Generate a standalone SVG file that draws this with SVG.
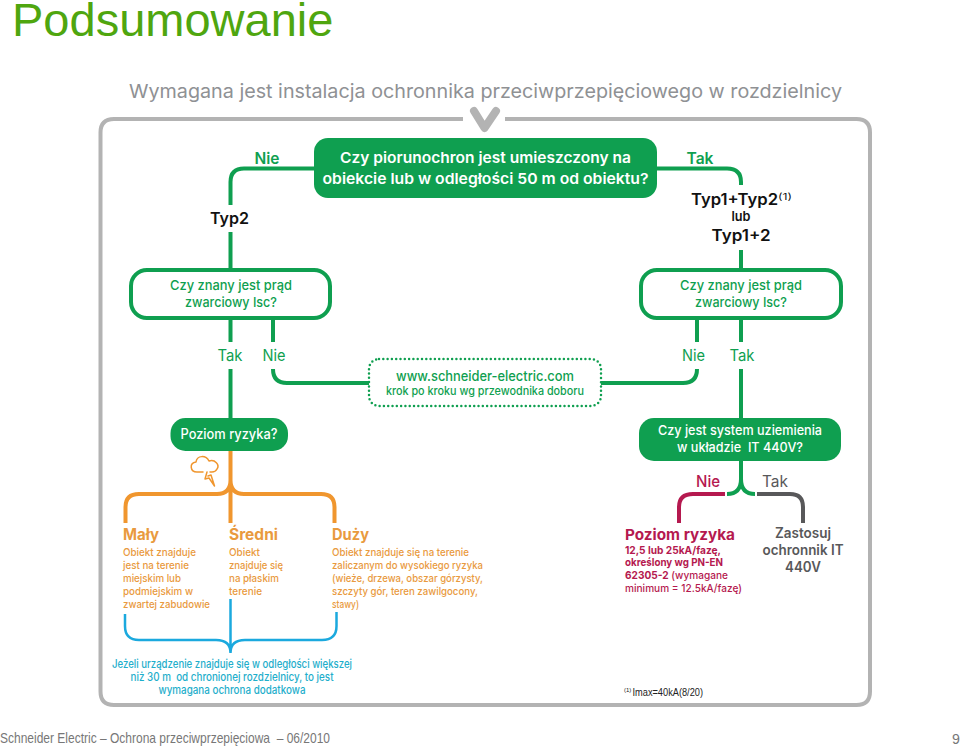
<svg xmlns="http://www.w3.org/2000/svg" width="960" height="746" viewBox="0 0 960 746">
<style>
text{font-family:"Inter","Liberation Sans",sans-serif;white-space:pre}
.c{text-anchor:middle}
.b{font-weight:700}
.sb{font-weight:600}
.m{font-weight:500}
.n{font-weight:400}
.l{fill:none;stroke-linecap:butt;stroke-linejoin:round}
.g{stroke:#0f9f50;stroke-width:4}
.o{stroke:#f0962e;stroke-width:4}
.gt{fill:#0f9f50}
.wt{fill:#fff}
.ot{fill:#e99a3e}
.ct{fill:#1eaecb}
.rt{fill:#b5194f}
.dt{fill:#58585a}
.bk{fill:#111}
.body{font-size:11px;font-weight:500}
.gbox{fill:#0f9f50}
.obox{fill:#fff;stroke:#0f9f50;stroke-width:4}
.ft{font-family:"Liberation Sans",Arial,sans-serif;fill:#777}
</style>
<text x="12" y="36" font-size="47" style="font-family:'Liberation Sans',Arial,sans-serif" fill="#4fa60f">Podsumowanie</text>
<text x="485.500" y="98" class="c n" font-size="19" fill="#8f9194" textLength="713" lengthAdjust="spacingAndGlyphs">Wymagana jest instalacja ochronnika przeciwprzepięciowego w rozdzielnicy</text>

<g id="frame">
<path class="l" stroke="#b3b3b3" stroke-width="4" d="M463 119H114Q100.500 119 100.500 132.500V691.500Q100.500 705 114 705H856.500Q870 705 870 691.500V132.500Q870 119 856.500 119H505"/>
<polyline fill="none" stroke="#b3b3b3" stroke-width="8" stroke-linecap="round" stroke-linejoin="round" points="474,111 484.500,128 496,111"/>
</g>

<g id="connectors">
<path class="l g" d="M314 168.500H244Q230.500 168.500 230.500 182V205M230.500 232V270"/>
<path class="l g" d="M657 168.500H727Q741 168.500 741 182V185M741 250V270"/>
<path class="l g" d="M230.500 318V342M230.500 369V418M273 318V342M273 369Q273 383 287 383H369"/>
<path class="l g" d="M697 318V342M697 369Q697 383 683 383H601M741 318V342M741 369V418"/>
<path class="l o" d="M230.500 451V523M230.500 480Q230.500 494 217 494H139Q125.500 494 125.500 507V523M230.500 480Q230.500 494 244 494H321Q334.500 494 334.500 507V523"/>
<path class="l g" d="M741 461V479Q741 494 727 494M741 479Q741 494 755 494"/>
<path class="l" stroke="#b5194f" stroke-width="4" d="M725 494H693Q679 494 679 507V523"/>
<path class="l" stroke="#58585a" stroke-width="4" d="M757 494H790Q803 494 803 507V523"/>
<path class="l" stroke="#1ba9de" stroke-width="2.500" d="M125 614V626Q125 640 139 640H216Q230.500 640 230.500 653M336.500 612V626Q336.500 640 322 640H245Q230.500 640 230.500 653M230.500 599V653"/>
</g>

<g id="q-piorunochron">
<rect class="gbox" x="314" y="138" width="343" height="60" rx="14"/>
<text x="485.500" y="163" class="c sb wt" font-size="15" textLength="291" lengthAdjust="spacingAndGlyphs">Czy piorunochron jest umieszczony na</text>
<text x="485.500" y="184" class="c sb wt" font-size="15" textLength="326" lengthAdjust="spacingAndGlyphs">obiekcie lub w odległości 50 m od obiektu?</text>
</g>
<g id="lbl-top">
<text x="267" y="164" class="c sb gt" font-size="16" textLength="25" lengthAdjust="spacingAndGlyphs">Nie</text>
<text x="700" y="164" class="c sb gt" font-size="16" textLength="27" lengthAdjust="spacingAndGlyphs">Tak</text>
</g>
<g id="typ2"><text x="229.500" y="224" class="c sb bk" font-size="15.500" textLength="39" lengthAdjust="spacingAndGlyphs">Typ2</text></g>
<g id="typ12">
<text x="691" y="205" class="sb bk" font-size="15.500" textLength="87" lengthAdjust="spacingAndGlyphs">Typ1+Typ2</text>
<text x="778" y="200" class="n bk" font-size="9.500" textLength="14" lengthAdjust="spacingAndGlyphs">(1)</text>
<text x="741" y="221" class="c sb bk" font-size="13" textLength="19" lengthAdjust="spacingAndGlyphs">lub</text>
<text x="741" y="241" class="c sb bk" font-size="15.500" textLength="59" lengthAdjust="spacingAndGlyphs">Typ1+2</text>
</g>
<g id="q-isc-l">
<rect class="obox" x="131" y="270" width="199" height="48" rx="16"/>
<text x="231" y="290" class="c m gt" font-size="13.500" textLength="122" lengthAdjust="spacingAndGlyphs">Czy znany jest prąd</text>
<text x="231" y="307" class="c m gt" font-size="13.500" textLength="92" lengthAdjust="spacingAndGlyphs">zwarciowy Isc?</text>
</g>
<g id="q-isc-r">
<rect class="obox" x="641" y="270" width="200" height="48" rx="16"/>
<text x="741" y="290" class="c m gt" font-size="13.500" textLength="122" lengthAdjust="spacingAndGlyphs">Czy znany jest prąd</text>
<text x="741" y="307" class="c m gt" font-size="13.500" textLength="92" lengthAdjust="spacingAndGlyphs">zwarciowy Isc?</text>
</g>
<g id="lbl-mid">
<text x="230" y="361" class="c n gt" font-size="16" textLength="25" lengthAdjust="spacingAndGlyphs">Tak</text>
<text x="274" y="361" class="c n gt" font-size="16" textLength="23" lengthAdjust="spacingAndGlyphs">Nie</text>
<text x="693.500" y="361" class="c n gt" font-size="16" textLength="23" lengthAdjust="spacingAndGlyphs">Nie</text>
<text x="742" y="361" class="c n gt" font-size="16" textLength="25" lengthAdjust="spacingAndGlyphs">Tak</text>
</g>
<g id="web">
<rect x="369" y="359" width="232" height="47" rx="10" fill="#fff" stroke="#0f9f50" stroke-width="2.500" stroke-dasharray="0 4.300" stroke-linecap="round"/>
<text x="485" y="380.500" class="c m gt" font-size="14" textLength="178" lengthAdjust="spacingAndGlyphs">www.schneider-electric.com</text>
<text x="485" y="395" class="c m gt" font-size="11.500" textLength="198" lengthAdjust="spacingAndGlyphs">krok po kroku wg przewodnika doboru</text>
</g>
<g id="q-poziom">
<rect class="gbox" x="170.500" y="418" width="117.500" height="33" rx="15"/>
<text x="229" y="439" class="c m wt" font-size="14" textLength="97" lengthAdjust="spacingAndGlyphs">Poziom ryzyka?</text>
</g>
<g id="cloud" fill="none" stroke="#f0962e" stroke-width="1.500" stroke-linejoin="round" stroke-linecap="round">
<path d="M203 472H197C190 472 189 463 196 462C197 455 206 455 209 461C215 459 220 465 217 469C216 471 214 472 212 472H210"/>
<path d="M207 472L205 479L209 478L214.500 486L211 475L208 476"/>
</g>
<g id="q-it">
<rect class="gbox" x="639" y="418" width="202" height="43" rx="15"/>
<text x="740" y="435" class="c m wt" font-size="13.500" textLength="164" lengthAdjust="spacingAndGlyphs">Czy jest system uziemienia</text>
<text x="740" y="452" class="c m wt" font-size="13.500" textLength="126" lengthAdjust="spacingAndGlyphs">w układzie  IT 440V?</text>
</g>
<g id="lbl-it">
<text x="708" y="487" class="c m rt" font-size="16" textLength="24" lengthAdjust="spacingAndGlyphs">Nie</text>
<text x="775" y="487" class="c n dt" font-size="16" textLength="26" lengthAdjust="spacingAndGlyphs">Tak</text>
</g>
<g id="maly">
<text x="123" y="540" class="b ot" font-size="15.500" textLength="36" lengthAdjust="spacingAndGlyphs">Mały</text>
<text x="123" y="556" class="body ot" textLength="73" lengthAdjust="spacingAndGlyphs">Obiekt znajduje</text>
<text x="123" y="569" class="body ot" textLength="66" lengthAdjust="spacingAndGlyphs">jest na terenie</text>
<text x="123" y="582" class="body ot" textLength="58" lengthAdjust="spacingAndGlyphs">miejskim lub</text>
<text x="123" y="595" class="body ot" textLength="70" lengthAdjust="spacingAndGlyphs">podmiejskim w</text>
<text x="123" y="608" class="body ot" textLength="87" lengthAdjust="spacingAndGlyphs">zwartej zabudowie</text>
</g>
<g id="sredni">
<text x="229" y="540" class="b ot" font-size="15.500" textLength="49" lengthAdjust="spacingAndGlyphs">Średni</text>
<text x="229" y="556" class="body ot" textLength="31" lengthAdjust="spacingAndGlyphs">Obiekt</text>
<text x="229" y="569" class="body ot" textLength="54" lengthAdjust="spacingAndGlyphs">znajduje się</text>
<text x="229" y="582" class="body ot" textLength="50" lengthAdjust="spacingAndGlyphs">na płaskim</text>
<text x="229" y="595" class="body ot" textLength="33" lengthAdjust="spacingAndGlyphs">terenie</text>
</g>
<g id="duzy">
<text x="332" y="540" class="b ot" font-size="15.500" textLength="37" lengthAdjust="spacingAndGlyphs">Duży</text>
<text x="332" y="556" class="body ot" textLength="137" lengthAdjust="spacingAndGlyphs">Obiekt znajduje się na terenie</text>
<text x="332" y="569" class="body ot" textLength="151" lengthAdjust="spacingAndGlyphs">zaliczanym do wysokiego ryzyka</text>
<text x="332" y="582" class="body ot" textLength="151" lengthAdjust="spacingAndGlyphs">(wieże, drzewa, obszar górzysty,</text>
<text x="332" y="595" class="body ot" textLength="146" lengthAdjust="spacingAndGlyphs">szczyty gór, teren zawilgocony,</text>
<text x="332" y="608" class="body ot" textLength="27" lengthAdjust="spacingAndGlyphs">stawy)</text>
</g>
<g id="dodatkowa">
<text x="232" y="668" class="c m ct" font-size="11.500" textLength="240" lengthAdjust="spacingAndGlyphs">Jeżeli urządzenie znajduje się w odległości większej</text>
<text x="232" y="681" class="c m ct" font-size="11.500" textLength="203" lengthAdjust="spacingAndGlyphs">niż 30 m  od chronionej rozdzielnicy, to jest</text>
<text x="232" y="694" class="c m ct" font-size="11.500" textLength="147" lengthAdjust="spacingAndGlyphs">wymagana ochrona dodatkowa</text>
</g>
<g id="poziom-ryzyka">
<text x="625" y="539.500" class="b rt" font-size="14.800" textLength="110" lengthAdjust="spacingAndGlyphs">Poziom ryzyka</text>
<text x="625" y="553.500" class="b rt" font-size="10.500" textLength="96" lengthAdjust="spacingAndGlyphs">12,5 lub 25kA/fazę,</text>
<text x="625" y="566" class="b rt" font-size="11" textLength="98" lengthAdjust="spacingAndGlyphs">określony wg PN-EN</text>
<text x="625" y="579" class="rt" font-size="11" font-weight="500" textLength="103" lengthAdjust="spacingAndGlyphs"><tspan class="b">62305-2</tspan> (wymagane</text>
<text x="625" y="592" class="rt" font-size="11" font-weight="500" textLength="117" lengthAdjust="spacingAndGlyphs">minimum = 12.5kA/fazę)</text>
</g>
<g id="zastosuj">
<text x="803" y="538" class="c sb dt" font-size="14" textLength="56" lengthAdjust="spacingAndGlyphs">Zastosuj</text>
<text x="803" y="555" class="c sb dt" font-size="14" textLength="81" lengthAdjust="spacingAndGlyphs">ochronnik IT</text>
<text x="803" y="572" class="c sb dt" font-size="14" textLength="36" lengthAdjust="spacingAndGlyphs">440V</text>
</g>
<g id="footnote" style="font-family:'Liberation Sans',Arial,sans-serif" fill="#222">
<text x="624" y="692" font-size="6" style="font-family:'Liberation Sans',Arial,sans-serif">(1)</text>
<text x="632.500" y="696" font-size="10" textLength="70.500" lengthAdjust="spacingAndGlyphs" style="font-family:'Liberation Sans',Arial,sans-serif">Imax=40kA(8/20)</text>
</g>
<g id="footer">
<text x="0" y="743" class="ft" font-size="14.200" textLength="330" lengthAdjust="spacingAndGlyphs">Schneider Electric – Ochrona przeciwprzepięciowa  – 06/2010</text>
<text x="952" y="744" class="ft" font-size="14.200">9</text>
</g>
</svg>
